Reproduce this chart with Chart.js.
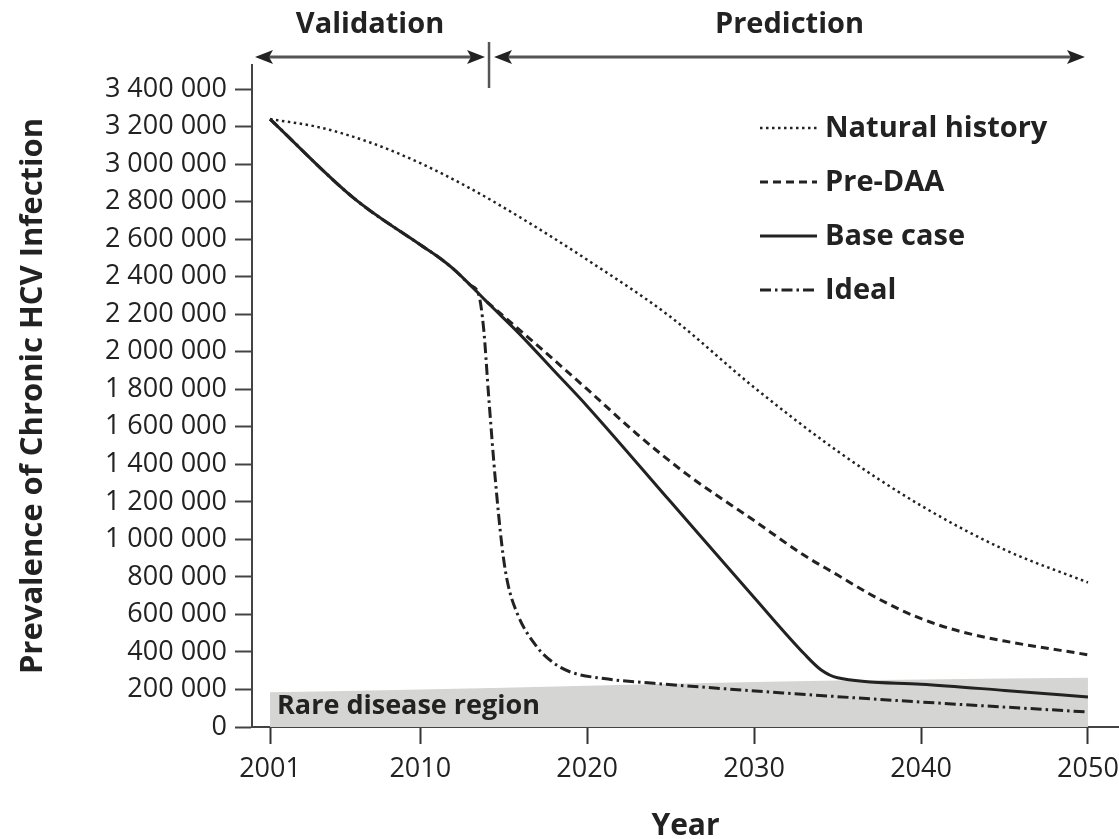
<!DOCTYPE html>
<html>
<head>
<meta charset="utf-8">
<script src="https://cdn.jsdelivr.net/npm/chart.js@4"></script>
<style>
  html, body { margin: 0; padding: 0; background: #fff; }
  #wrap { width: 1119px; height: 839px; }
</style>
</head>
<body>
<div id="wrap"><canvas id="hcv" width="1119" height="839"></canvas></div>
<script>
// prevalence of chronic HCV infection, four scenarios
var naturalYears = [2001, 2004, 2007, 2010, 2013, 2016, 2020, 2025, 2030, 2035, 2040, 2045, 2050]
var naturalValues = [3240000, 3195000, 3115000, 3005000, 2870000, 2715000, 2490000, 2185000, 1810000, 1470000, 1180000, 945000, 770000]

var preDaaYears = [2014, 2017, 2020, 2023, 2026, 2030, 2033, 2035, 2037, 2039, 2041, 2043, 2045, 2050]
var preDaaValues = [2265000, 2035000, 1800000, 1560000, 1345000, 1100000, 915000, 810000, 705000, 615000, 545000, 495000, 458000, 385000]

var baseYears = [2001, 2006, 2010, 2011, 2012, 2013, 2014, 2016, 2018, 2020, 2025, 2030, 2033, 2034, 2035, 2040, 2045, 2050]
var baseValues = [3240000, 2820000, 2570000, 2510000, 2440000, 2355000, 2265000, 2090000, 1900000, 1710000, 1200000, 690000, 390000, 305000, 262000, 228000, 195000, 160000]

var idealYears = [2001, 2006, 2010, 2011, 2012, 2013, 2013.5, 2013.8, 2014.1, 2014.5, 2014.9, 2015.2, 2015.8, 2017, 2018, 2019, 2021, 2024, 2032, 2040, 2050]
var idealValues = [3240000, 2820000, 2570000, 2510000, 2440000, 2355000, 2305000, 2120000, 1760000, 1316000, 960000, 783000, 607000, 426000, 341000, 293000, 258000, 233000, 180000, 133000, 80000]

// upper edge of the rare disease band
var rareYears = [2001, 2010, 2020, 2030, 2040, 2050]
var rareValues = [185000, 200000, 220000, 240000, 253000, 262000]

var seriesLabels = ['Natural history', 'Pre-DAA', 'Base case', 'Ideal']
var xTickYears = [2001, 2010, 2020, 2030, 2040, 2050]
var yTickValues = [0, 200000, 400000, 600000, 800000, 1000000, 1200000, 1400000, 1600000,
    1800000, 2000000, 2200000, 2400000, 2600000, 2800000, 3000000, 3200000, 3400000]
var phaseLabels = ['Validation', 'Prediction']
var phaseBreakYear = 2014

var FONT = "'Open Sans', 'Noto Sans', sans-serif";
var INK = '#222';

function points(xs, ys) {
    return xs.map(function (x, i) { return { x: x, y: ys[i] }; });
}

function lineSet(label, xs, ys, dash, width) {
    return {
        label: label,
        data: points(xs, ys),
        borderColor: INK,
        backgroundColor: INK,
        borderWidth: width,
        borderDash: dash,
        borderCapStyle: 'butt',
        pointRadius: 0,
        fill: false,
        cubicInterpolationMode: 'monotone'
    };
}

var datasets = [
    lineSet(seriesLabels[0], naturalYears, naturalValues, [2.5, 3.5], 2.5),
    lineSet(seriesLabels[1], preDaaYears, preDaaValues, [8, 5], 3),
    lineSet(seriesLabels[2], baseYears, baseValues, [], 3),
    lineSet(seriesLabels[3], idealYears, idealValues, [11, 4, 2.5, 4], 3),
    {
        label: 'Rare disease region',
        data: points(rareYears, rareValues),
        borderWidth: 0,
        pointRadius: 0,
        cubicInterpolationMode: 'monotone',
        fill: 'origin',
        backgroundColor: '#d5d6d4'
    }
];

// text inside the grey band
var rareLabel = {
    id: 'rareLabel',
    afterDatasetsDraw: function (chart) {
        var ctx = chart.ctx, x = chart.scales.x, y = chart.scales.y;
        ctx.save();
        ctx.fillStyle = INK;
        ctx.font = 'bold 27px ' + FONT;
        ctx.textBaseline = 'middle';
        ctx.fillText('Rare disease region', x.getPixelForValue(2001) + 7, y.getPixelForValue(108000));
        ctx.restore();
    }
};

// key with line samples in the upper right of the plot
var lineKey = {
    id: 'lineKey',
    afterDatasetsDraw: function (chart) {
        var ctx = chart.ctx;
        ctx.save();
        for (var i = 0; i < seriesLabels.length; i++) {
            var ds = chart.data.datasets[i];
            var yy = 128 + i * 54;
            ctx.beginPath();
            ctx.setLineDash(ds.borderDash);
            ctx.lineWidth = ds.borderWidth;
            ctx.strokeStyle = INK;
            ctx.moveTo(760, yy);
            ctx.lineTo(817, yy);
            ctx.stroke();
            ctx.setLineDash([]);
            ctx.fillStyle = INK;
            ctx.font = 'bold 29px ' + FONT;
            ctx.textBaseline = 'middle';
            ctx.fillText(ds.label, 825, yy + 1);
        }
        ctx.restore();
    }
};

function arrowHead(ctx, tipX, y, dir) {
    ctx.beginPath();
    ctx.moveTo(tipX, y);
    ctx.lineTo(tipX + dir * 18, y - 7);
    ctx.lineTo(tipX + dir * 14, y);
    ctx.lineTo(tipX + dir * 18, y + 7);
    ctx.closePath();
    ctx.fill();
}

// validation / prediction spans above the plot
var phaseArrows = {
    id: 'phaseArrows',
    afterDraw: function (chart) {
        var ctx = chart.ctx, x = chart.scales.x, area = chart.chartArea;
        var yy = area.top - 8;
        var split = x.getPixelForValue(phaseBreakYear);
        var spans = [
            [area.left + 3, split - 2],
            [split + 7, x.getPixelForValue(2050) - 3]
        ];
        ctx.save();
        ctx.strokeStyle = '#555';
        ctx.fillStyle = INK;
        ctx.lineWidth = 3;
        spans.forEach(function (s, i) {
            ctx.beginPath();
            ctx.moveTo(s[0] + 10, yy);
            ctx.lineTo(s[1] - 10, yy);
            ctx.stroke();
            arrowHead(ctx, s[0], yy, 1);
            arrowHead(ctx, s[1], yy, -1);
            ctx.font = 'bold 29px ' + FONT;
            ctx.textAlign = 'center';
            ctx.textBaseline = 'middle';
            ctx.fillText(phaseLabels[i], (s[0] + s[1]) / 2, 25);
        });
        ctx.beginPath();
        ctx.lineWidth = 2.5;
        ctx.moveTo(split + 2, yy - 15);
        ctx.lineTo(split + 2, yy + 31);
        ctx.stroke();
        ctx.restore();
    }
};

var ctx = document.getElementById('hcv').getContext('2d');

var hcvChart = new Chart(ctx, {
    type: 'line',
    data: { datasets: datasets },
    plugins: [rareLabel, lineKey, phaseArrows],
    options: {
        responsive: false,
        animation: false,
        devicePixelRatio: 1,
        layout: {
            padding: { top: 65, right: 0, left: 0, bottom: 0 }
        },
        plugins: {
            legend: { display: false },
            tooltip: { enabled: false }
        },
        scales: {
            x: {
                type: 'linear',
                min: 1999.92,
                max: 2051.86,
                afterBuildTicks: function (scale) {
                    scale.ticks = xTickYears.map(function (v) { return { value: v }; });
                },
                afterFit: function (scale) {
                    scale.height = 112;
                    scale.paddingLeft = 0;
                    scale.paddingRight = 0;
                },
                ticks: {
                    color: INK,
                    padding: 9,
                    maxRotation: 0,
                    autoSkip: false,
                    font: { family: FONT, size: 27 },
                    callback: function (v) { return String(v); }
                },
                grid: {
                    drawOnChartArea: false,
                    tickLength: 17,
                    tickWidth: 2,
                    tickColor: '#333'
                },
                border: { color: '#444', width: 2 },
                title: {
                    display: true,
                    text: 'Year',
                    color: INK,
                    font: { family: FONT, size: 30, weight: 'bold', lineHeight: 1 },
                    padding: { top: 0, bottom: -2 }
                }
            },
            y: {
                min: 0,
                max: 3528000,
                afterBuildTicks: function (scale) {
                    scale.ticks = yTickValues.map(function (v) { return { value: v }; });
                },
                afterFit: function (scale) { scale.width = 252; },
                ticks: {
                    autoSkip: false,
                    color: INK,
                    padding: 8,
                    font: { family: FONT, size: 27 },
                    callback: function (v) {
                        return Number(v).toLocaleString('en-US').replace(/,/g, ' ');
                    }
                },
                grid: {
                    drawOnChartArea: false,
                    tickLength: 17,
                    tickWidth: 2,
                    tickColor: '#444'
                },
                border: { color: '#444', width: 2 },
                title: {
                    display: true,
                    text: 'Prevalence of Chronic HCV Infection',
                    color: INK,
                    font: { family: FONT, size: 31, weight: 'bold', lineHeight: 1 },
                    padding: { top: 18, bottom: 0 }
                }
            }
        }
    }
});
</script>
</body>
</html>
